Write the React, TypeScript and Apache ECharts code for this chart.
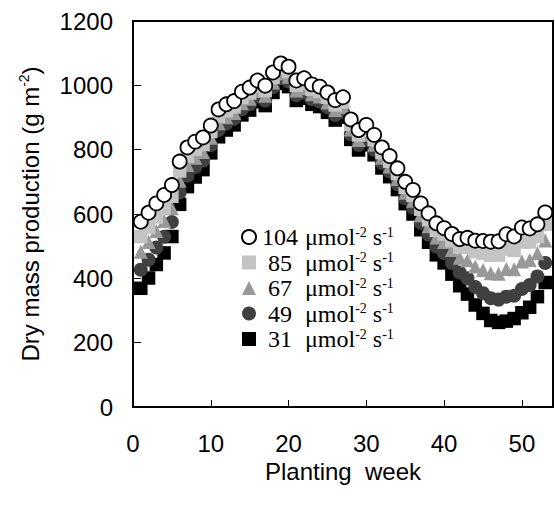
import React, { useEffect, useRef } from 'react';
import * as echarts from 'echarts';

// planting weeks 1..53
const weeks = [
  1, 2, 3, 4, 5, 6, 7, 8, 9, 10, 11, 12, 13, 14, 15, 16, 17, 18, 19, 20, 21, 22, 23, 24, 25, 26, 27,
  28, 29, 30, 31, 32, 33, 34, 35, 36, 37, 38, 39, 40, 41, 42, 43, 44, 45, 46, 47, 48, 49, 50, 51, 52, 53,
];

// dry mass production (g m-2) per light level
const dm104 = [
  576, 604, 633, 659, 690, 763, 807, 825, 838, 875, 925, 941, 951, 980, 993, 1015, 999, 1040, 1068, 1058,
  1015, 1022, 1003, 996, 978, 954, 963, 894, 861, 877, 846, 807, 780, 742, 700, 675, 633, 602, 571, 556,
  538, 522, 526, 517, 516, 514, 515, 537, 530, 558, 555, 568, 605,
];
const dm85 = [
  530, 559, 591, 619, 655, 734, 780, 801, 816, 856, 904, 921, 933, 962, 976, 998, 984, 1025, 1053, 1043,
  1000, 1007, 988, 981, 963, 939, 948, 879, 846, 862, 831, 791, 764, 726, 683, 658, 615, 582, 549, 538,
  517, 497, 496, 483, 478, 472, 472, 491, 487, 513, 513, 530, 568,
];
const dm67 = [
  483, 513, 547, 578, 618, 703, 752, 775, 793, 837, 882, 901, 914, 944, 958, 982, 968, 1009, 1037, 1027,
  984, 991, 972, 965, 947, 923, 932, 863, 830, 846, 815, 775, 748, 709, 666, 641, 596, 562, 527, 513,
  488, 464, 456, 437, 426, 416, 414, 429, 428, 452, 457, 478, 518,
];
const dm49 = [
  427, 458, 496, 529, 575, 667, 719, 746, 766, 814, 861, 881, 896, 926, 941, 965, 953, 994, 1022, 1012,
  969, 976, 957, 950, 932, 908, 917, 848, 815, 831, 800, 759, 732, 693, 649, 620, 573, 536, 499, 478,
  448, 418, 400, 373, 354, 338, 334, 343, 346, 367, 379, 406, 448,
];
const dm31 = [
  369, 401, 443, 479, 530, 630, 685, 715, 738, 790, 840, 861, 877, 908, 923, 949, 937, 978, 1006, 996,
  953, 960, 941, 934, 916, 892, 901, 832, 799, 815, 784, 743, 716, 676, 632, 600, 551, 512, 473, 448,
  413, 377, 351, 317, 291, 269, 263, 267, 275, 293, 310, 343, 387,
];

const levels = ['104', '85', '67', '49', '31'];
const xTicks = { min: 0, max: 54, interval: 10 };
const yTicks = { min: 0, max: 1200, interval: 200 };

const sans = "'Liberation Sans', Arial, sans-serif";
const serif = "'Liberation Serif', 'Times New Roman', serif";

const pairs = (vals: number[]) => weeks.map((w, i) => [w, vals[i]]);

const App = () => {
  const chartRef = useRef<HTMLDivElement>(null);

  useEffect(() => {
    if (!chartRef.current) return;
    const chart = echarts.init(chartRef.current, undefined, { renderer: 'svg' });

    // drawn from the lowest level up so the open circles end on top
    const series: any[] = [
      { name: '31', data: pairs(dm31), symbol: 'rect', symbolSize: 13.5, itemStyle: { color: '#000' } },
      { name: '49', data: pairs(dm49), symbol: 'circle', symbolSize: 14, itemStyle: { color: '#404040' } },
      { name: '67', data: pairs(dm67), symbol: 'triangle', symbolSize: 14, itemStyle: { color: '#999999' } },
      { name: '85', data: pairs(dm85), symbol: 'rect', symbolSize: 13.5, itemStyle: { color: '#c4c4c4' } },
      {
        name: '104',
        data: pairs(dm104),
        symbol: 'circle',
        symbolSize: 14,
        itemStyle: { color: '#fff', borderColor: '#000', borderWidth: 1.8 },
      },
    ].map((s) => ({ ...s, type: 'scatter', itemStyle: { ...s.itemStyle, opacity: 1 } }));

    chart.setOption({
      animation: false,
      grid: {
        left: 133,
        right: 2,
        top: 21,
        bottom: 101,
        show: true,
        borderColor: '#000',
        borderWidth: 2,
      },
      legend: {
        orient: 'vertical',
        left: 236,
        top: 220,
        itemWidth: 14,
        itemHeight: 14,
        itemGap: 1.5,
        data: levels,
        formatter: (name: string) => `{n|${name}}{a| μmol}{s|-2}{a| s}{s|-1}`,
        textStyle: {
          fontFamily: serif,
          fontSize: 24,
          color: '#000',
          rich: {
            n: { fontFamily: serif, fontSize: 24, width: 38, align: 'right', lineHeight: 24 },
            a: { fontFamily: serif, fontSize: 24, lineHeight: 24 },
            s: { fontFamily: serif, fontSize: 14, verticalAlign: 'top', lineHeight: 24 },
          },
        },
      },
      xAxis: {
        type: 'value',
        ...xTicks,
        name: 'Planting  week',
        nameLocation: 'middle',
        nameGap: 49,
        nameTextStyle: { fontFamily: sans, fontSize: 24, color: '#000' },
        splitLine: { show: false },
        axisLine: { lineStyle: { color: '#000', width: 2 } },
        axisTick: { inside: true, length: 7, lineStyle: { color: '#000', width: 1 } },
        axisLabel: { fontFamily: sans, fontSize: 24, color: '#000', margin: 24, showMaxLabel: false },
      },
      yAxis: {
        type: 'value',
        ...yTicks,
        name: '{t|Dry mass production (g m}{s|-2}{t|)}',
        nameLocation: 'middle',
        nameGap: 90,
        nameTextStyle: {
          fontFamily: sans,
          fontSize: 24,
          color: '#000',
          rich: {
            t: { fontFamily: sans, fontSize: 24, lineHeight: 26 },
            s: { fontFamily: sans, fontSize: 14, verticalAlign: 'top', lineHeight: 26 },
          },
        },
        splitLine: { show: false },
        axisLine: { lineStyle: { color: '#000', width: 2 } },
        axisTick: { inside: true, length: 8, lineStyle: { color: '#000', width: 1 } },
        axisLabel: {
          fontFamily: sans,
          fontSize: 24,
          color: '#000',
          margin: 20,
          formatter: (v: number) => String(v),
        },
      },
      series,
    });

    return () => {
      chart.dispose();
    };
  }, []);

  return (
    <div
      ref={chartRef}
      style={{ position: 'absolute', left: 0, top: 0, width: '555px', height: '508px', background: '#fff' }}
    ></div>
  );
};

export default App;
